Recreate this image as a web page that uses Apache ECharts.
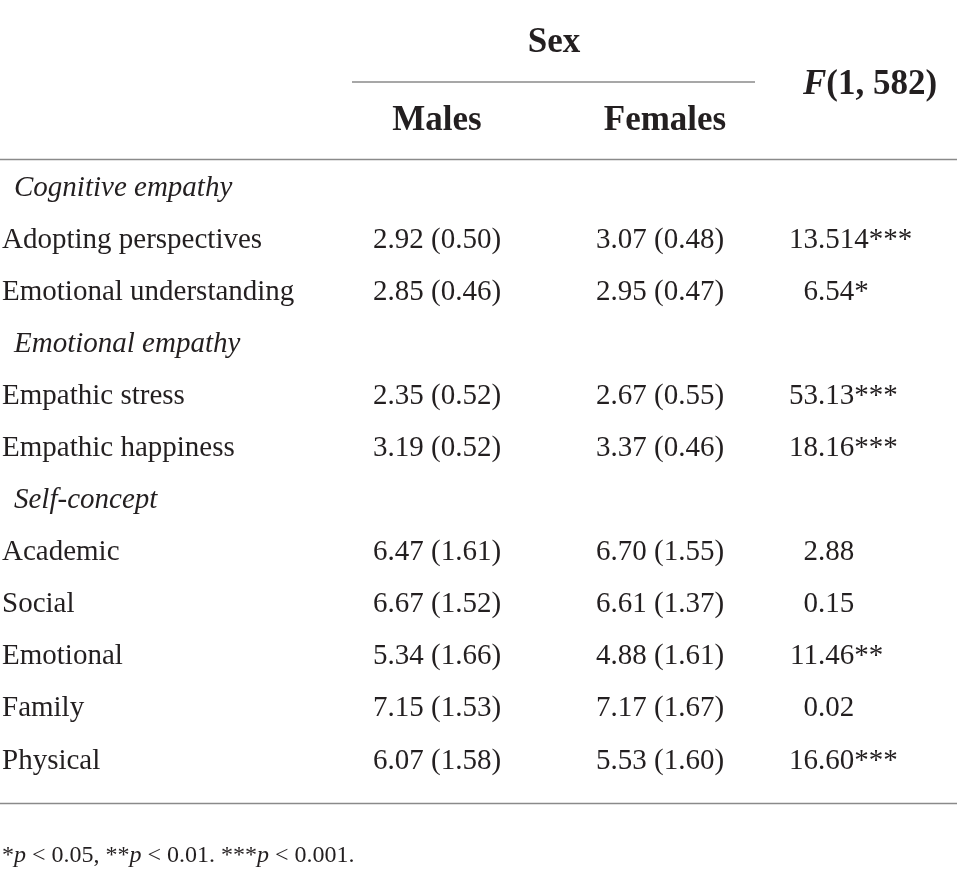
<!DOCTYPE html>
<html>
<head>
<meta charset="utf-8">
<script src="https://cdn.jsdelivr.net/npm/echarts@6/dist/echarts.min.js"></script>
<style>
  html, body { margin: 0; padding: 0; background: #fff; }
  #main { width: 957px; height: 883px; }
</style>
</head>
<body>
<div id="main"></div>
<script>
// table rows (top to bottom); section headings are marked in rowKind
var rowLabels = ['Cognitive empathy', 'Adopting perspectives', 'Emotional understanding',
  'Emotional empathy', 'Empathic stress', 'Empathic happiness',
  'Self-concept', 'Academic', 'Social', 'Emotional', 'Family', 'Physical'];
var rowKind = ['section', 'item', 'item', 'section', 'item', 'item',
  'section', 'item', 'item', 'item', 'item', 'item'];

// means and standard deviations (null on section rows)
var malesMean   = [null, 2.92, 2.85, null, 2.35, 3.19, null, 6.47, 6.67, 5.34, 7.15, 6.07];
var malesSD     = [null, 0.50, 0.46, null, 0.52, 0.52, null, 1.61, 1.52, 1.66, 1.53, 1.58];
var femalesMean = [null, 3.07, 2.95, null, 2.67, 3.37, null, 6.70, 6.61, 4.88, 7.17, 5.53];
var femalesSD   = [null, 0.48, 0.47, null, 0.55, 0.46, null, 1.55, 1.37, 1.61, 1.67, 1.60];

// F(1, 582) statistics, kept as printed, and their significance stars
var fStat = [null, '13.514', '6.54', null, '53.13', '18.16', null, '2.88', '0.15', '11.46', '0.02', '16.60'];
var fSig  = [null, '***', '*', null, '***', '***', null, '', '', '**', '', '***'];

var headerGroup = 'Sex';
var headerCols = ['Males', 'Females'];

// layout
var W = 957, H = 883;
var colX = { label: 2, section: 14, males: 437, females: 660, fDot: 818 };
var ink = '#231f20';
var rule = '#8a8a8a';
var serif = '"Liberation Serif", "DejaVu Serif", serif';
var bodySize = 29;

function cell(x, i, text) {
  return { value: [x, i], text: text };
}

var labelData = [], maleData = [], femaleData = [], fIntData = [], fFracData = [];
rowLabels.forEach(function (name, i) {
  var isSection = rowKind[i] === 'section';
  labelData.push(cell(isSection ? colX.section : colX.label, i, name));
  if (isSection) return;
  maleData.push(cell(colX.males, i, malesMean[i].toFixed(2) + ' (' + malesSD[i].toFixed(2) + ')'));
  femaleData.push(cell(colX.females, i, femalesMean[i].toFixed(2) + ' (' + femalesSD[i].toFixed(2) + ')'));
  var parts = fStat[i].split('.');
  fIntData.push(cell(colX.fDot, i, parts[0]));
  fFracData.push(cell(colX.fDot, i, '.' + parts[1] + fSig[i]));
});

function textSeries(data, align) {
  return {
    type: 'scatter',
    data: data,
    symbol: 'rect',
    symbolSize: 1,
    itemStyle: { color: 'rgba(0,0,0,0)', opacity: 1 },
    silent: true,
    label: {
      show: true,
      position: 'inside',
      align: align,
      verticalAlign: 'middle',
      color: ink,
      textBorderWidth: 0,
      fontFamily: serif,
      fontSize: bodySize,
      formatter: function (p) { return p.data.text; }
    }
  };
}

var labelSeries = textSeries(labelData, 'left');
labelSeries.label.formatter = function (p) {
  return rowKind[p.data.value[1]] === 'section' ? '{it|' + p.data.text + '}' : p.data.text;
};
labelSeries.label.rich = { it: { fontStyle: 'italic', fontFamily: serif, fontSize: bodySize, color: ink } };

var chart = echarts.init(document.getElementById('main'), null, { renderer: 'canvas' });

var headFont = 'bold 35px ' + serif;

chart.setOption({
  backgroundColor: '#fff',
  animation: false,
  grid: { left: 0, right: 0, top: 162, height: 625 },
  xAxis: { type: 'value', min: 0, max: W, show: false },
  yAxis: { type: 'category', data: rowLabels, inverse: true, show: false },
  series: [
    labelSeries,
    textSeries(maleData, 'center'),
    textSeries(femaleData, 'center'),
    textSeries(fIntData, 'right'),
    textSeries(fFracData, 'left')
  ],
  graphic: [
    { type: 'text', x: 554, y: 43,
      style: { text: headerGroup, fill: ink, font: headFont, align: 'center', verticalAlign: 'middle' } },
    { type: 'text', x: 437, y: 121,
      style: { text: headerCols[0], fill: ink, font: headFont, align: 'center', verticalAlign: 'middle' } },
    { type: 'text', x: 665, y: 121,
      style: { text: headerCols[1], fill: ink, font: headFont, align: 'center', verticalAlign: 'middle' } },
    { type: 'text', x: 870, y: 85,
      style: {
        text: '{f|F}{n|(1, 582)}', align: 'center', verticalAlign: 'middle',
        rich: {
          f: { fill: ink, fontFamily: serif, fontSize: 35, fontWeight: 'bold', fontStyle: 'italic' },
          n: { fill: ink, fontFamily: serif, fontSize: 35, fontWeight: 'bold' }
        }
      } },
    { type: 'line', shape: { x1: 352, y1: 82, x2: 755, y2: 82 }, style: { stroke: rule, lineWidth: 1.5 } },
    { type: 'line', shape: { x1: 0, y1: 159.5, x2: W, y2: 159.5 }, style: { stroke: rule, lineWidth: 1.5 } },
    { type: 'line', shape: { x1: 0, y1: 803.5, x2: W, y2: 803.5 }, style: { stroke: rule, lineWidth: 1.5 } },
    { type: 'text', x: 2, y: 856,
      style: {
        text: '*{p|p} < 0.05, **{p|p} < 0.01. ***{p|p} < 0.001.', verticalAlign: 'middle',
        fill: ink, fontFamily: serif, fontSize: 24,
        rich: { p: { fill: ink, fontFamily: serif, fontSize: 24, fontStyle: 'italic' } }
      } }
  ]
});
</script>
</body>
</html>
